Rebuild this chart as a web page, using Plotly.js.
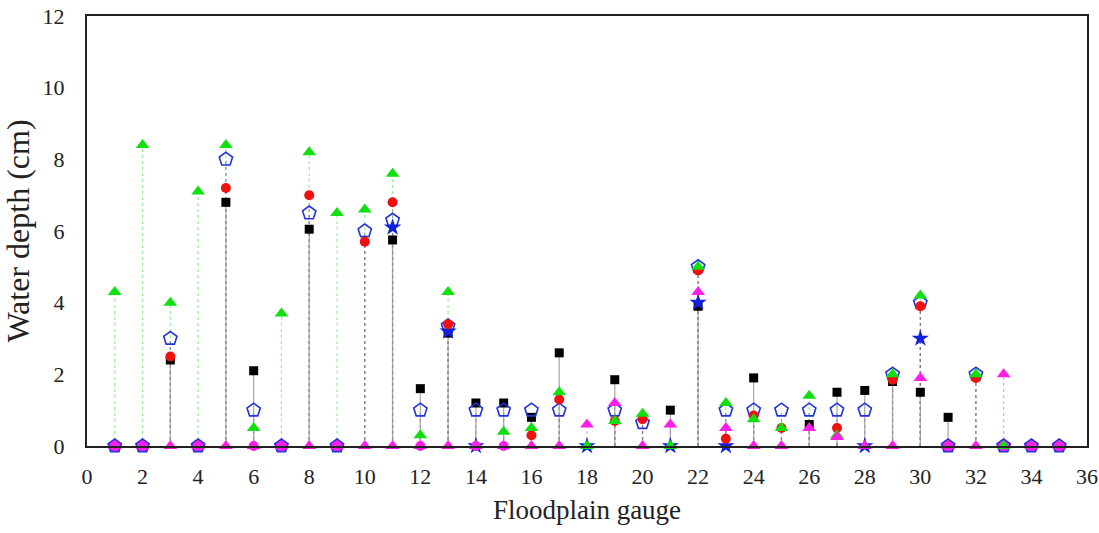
<!DOCTYPE html>
<html>
<head>
<meta charset="utf-8">
<script src="https://cdn.plot.ly/plotly-3.0.1.min.js"></script>
<style>html,body{margin:0;padding:0;background:#fff;}#chart{width:1099px;height:533px;}</style>
</head>
<body>
<div id="chart"></div>
<script>
// Floodplain gauge numbers
const gauges = [1,2,3,4,5,6,7,8,9,10,11,12,13,14,15,16,17,18,19,20,21,22,23,24,25,26,27,28,29,30,31,32,33,34,35];
// Water depth (cm) per series
const blackSquares = [null,null,2.4,null,6.8,2.1,null,6.05,null,null,5.75,1.6,3.15,1.2,1.2,0.8,2.6,null,1.85,null,1.0,3.9,null,1.9,null,0.6,1.5,1.55,1.8,1.5,0.8,null,null,null,null];
const redCircles   = [0,0,2.5,0,7.2,0,0,7.0,0,5.7,6.8,0,3.4,0,0,0.3,1.3,null,0.7,0.75,null,4.9,0.2,0.85,0.5,null,0.5,null,1.85,3.9,0,1.9,0,0,0];
const greenTri     = [4.3,8.4,4.0,7.1,8.4,0.5,3.7,8.2,6.5,6.6,7.6,0.3,4.3,0,0.4,0.5,1.5,0,0.7,0.9,0,5.0,1.2,0.75,0.5,1.4,0.3,0,2.0,4.2,0,2.0,0,0,0];
const bluePent     = [0,0,3.0,0,8.0,1.0,0,6.5,0,6.0,6.3,1.0,3.35,1.0,1.0,1.0,1.0,null,1.0,0.65,null,5.0,1.0,1.0,1.0,1.0,1.0,1.0,2.0,4.0,0,2.0,0,0,0];
const blueStars    = [null,null,null,null,null,null,null,null,null,null,6.1,null,3.2,0,null,null,null,0,null,null,0,4.0,0,null,null,null,null,0,null,3.0,null,null,null,null,null];
const magentaTri   = [0,0,0,0,0,0,0,0,0,0,0,0,0,0,0,0,0,0.6,1.2,0,0.6,4.3,0.5,0,0,0.5,0.25,0,0,1.9,0,0,2.0,0,0];

const MAG = '#ff1ee6';
function stems(vals, color, dash, width) {
  const xs = [], ys = [];
  gauges.forEach((g, i) => {
    const v = vals[i];
    if (v !== null && v > 0) { xs.push(g, g, null); ys.push(0, v, null); }
  });
  return {x: xs, y: ys, mode: 'lines', type: 'scatter', hoverinfo: 'skip', showlegend: false,
          line: {color: color, dash: dash, width: width}};
}
const zeroColor = (vals, c) => vals.map(v => v === 0 ? MAG : c);
const pts = (name, vals, marker) => ({x: gauges, y: vals, mode: 'markers', type: 'scatter',
  name: name, cliponaxis: false, marker: marker});

const traces = [
  stems(greenTri, 'rgba(60,220,60,0.5)', 'dot', 1.2),
  stems(magentaTri, 'rgba(255,30,230,0.45)', 'dot', 1.2),
  stems(bluePent, 'rgba(60,60,200,0.5)', 'dot', 1.2),
  stems(redCircles, 'rgba(200,60,60,0.4)', 'dot', 1.2),
  stems(blueStars, 'rgba(120,120,140,0.6)', 'dot', 1.2),
  stems(blackSquares, 'rgba(150,150,150,0.85)', 'solid', 1.2),
  pts('black', blackSquares, {symbol: 'square', size: 9, color: '#000'}),
  pts('pentagon', bluePent, {symbol: 'pentagon', size: 14,
      color: bluePent.map(v => v === 0 ? MAG : 'rgba(0,0,0,0)'),
      line: {color: '#2233dd', width: 1.6}}),
  pts('star', blueStars, {symbol: 'star', size: 13, color: '#1020e0'}),
  pts('red', redCircles, {symbol: 'circle', size: 10, color: zeroColor(redCircles, '#f01010')}),
  pts('green', greenTri, {symbol: 'triangle-up', size: 12, color: '#10e010'}),
  pts('magenta', magentaTri, {symbol: 'triangle-up', size: 12, color: MAG})
];

const fam = 'Liberation Serif, Times New Roman, serif';
const tickFont = {family: fam, size: 22, color: '#222'};
const layout = {
  width: 1099, height: 533,
  margin: {l: 87, r: 12, t: 16, b: 87},
  paper_bgcolor: '#fff', plot_bgcolor: '#fff',
  showlegend: false,
  xaxis: {range: [0, 36], tick0: 0, dtick: 2, showgrid: false, zeroline: false,
          showline: true, mirror: true, linecolor: '#222', linewidth: 2,
          ticks: '', ticklabelstandoff: 10, tickfont: tickFont,
          title: {text: 'Floodplain gauge', font: {family: fam, size: 27, color: '#222'}, standoff: 12}},
  yaxis: {range: [0, 12], tick0: 0, dtick: 2, showgrid: false, zeroline: false,
          showline: true, mirror: true, linecolor: '#222', linewidth: 2,
          ticks: '', ticklabelstandoff: 16, tickfont: tickFont,
          title: {text: 'Water depth (cm)', font: {family: fam, size: 32, color: '#222'}, standoff: 4}}
};
Plotly.newPlot('chart', traces, layout, {displayModeBar: false, staticPlot: true});
</script>
</body>
</html>
